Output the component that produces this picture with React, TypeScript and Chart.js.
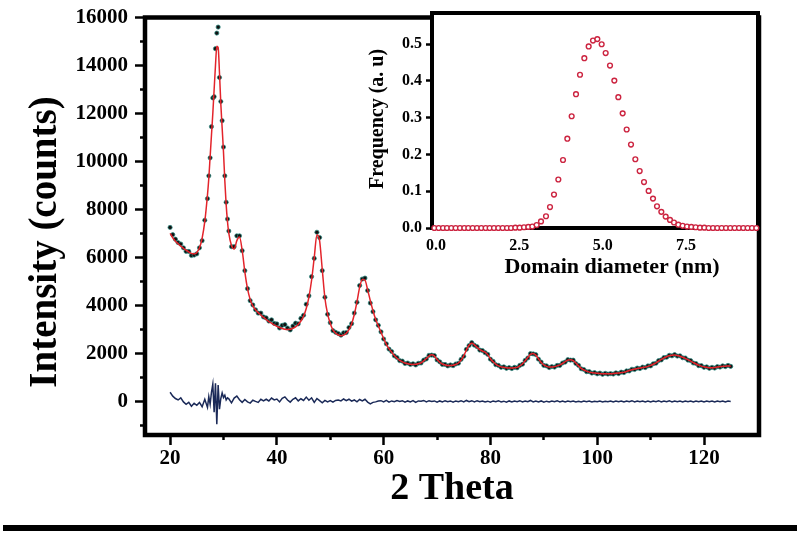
import React, { useEffect, useRef } from 'react';
import { Chart, registerables } from 'chart.js';

Chart.register(...registerables);

// ---------- main XRD pattern ----------
const THETA = [
  20, 20.5, 21, 21.5, 22, 22.5, 23, 23.5, 24, 24.5,
  25, 25.5, 26, 26.5, 27, 27.25, 27.5, 27.75, 28, 28.25,
  28.5, 28.75, 29, 29.25, 29.5, 29.75, 30, 30.25, 30.5, 30.75,
  31, 31.5, 32, 32.5, 33, 33.5, 34, 34.5, 35, 35.5,
  36, 36.5, 37, 37.5, 38, 38.5, 39, 39.5, 40, 40.5,
  41, 41.5, 42, 42.5, 43, 43.5, 44, 44.5, 45, 45.5,
  46, 46.5, 47, 47.5, 48, 48.5, 49, 49.5, 50, 50.5,
  51, 51.5, 52, 52.5, 53, 53.5, 54, 54.5, 55, 55.5,
  56, 56.5, 57, 57.5, 58, 58.5, 59, 59.5, 60, 60.5,
  61, 61.5, 62, 62.5, 63, 63.5, 64, 64.5, 65, 65.5,
  66, 66.5, 67, 67.5, 68, 68.5, 69, 69.5, 70, 70.5,
  71, 71.5, 72, 72.5, 73, 73.5, 74, 74.5, 75, 75.5,
  76, 76.5, 77, 77.5, 78, 78.5, 79, 79.5, 80, 80.5,
  81, 81.5, 82, 82.5, 83, 83.5, 84, 84.5, 85, 85.5,
  86, 86.5, 87, 87.5, 88, 88.5, 89, 89.5, 90, 90.5,
  91, 91.5, 92, 92.5, 93, 93.5, 94, 94.5, 95, 95.5,
  96, 96.5, 97, 97.5, 98, 98.5, 99, 99.5, 100, 100.5,
  101, 101.5, 102, 102.5, 103, 103.5, 104, 104.5, 105, 105.5,
  106, 106.5, 107, 107.5, 108, 108.5, 109, 109.5, 110, 110.5,
  111, 111.5, 112, 112.5, 113, 113.5, 114, 114.5, 115, 115.5,
  116, 116.5, 117, 117.5, 118, 118.5, 119, 119.5, 120, 120.5,
  121, 121.5, 122, 122.5, 123, 123.5, 124, 124.5, 125,
];

const OBSERVED = [
  7250, 6950, 6760, 6620, 6560, 6400, 6250, 6250, 6080, 6100,
  6150, 6400, 6700, 7550, 8450, 9400, 10150, 11450, 12650, 12700,
  14700, 15350, 15600, 13500, 12500, 11700, 10600, 9400, 8300, 7600,
  7100, 6450, 6450, 6900, 6900, 6280, 5450, 4700, 4200, 4020,
  3820, 3680, 3680, 3520, 3480, 3350, 3400, 3250, 3230, 3060,
  3170, 3200, 3060, 2980, 3140, 3260, 3230, 3460, 3590, 4050,
  4400, 5200, 5960, 7050, 6830, 5450, 4340, 3630, 3280, 2950,
  2880, 2830, 2760, 2860, 2870, 3080, 3240, 3680, 4130, 4830,
  5100, 5140, 4620, 4100, 3740, 3400, 3170, 2900, 2600, 2400,
  2180, 2080, 1900, 1830, 1700, 1680, 1580, 1600, 1540, 1570,
  1520, 1590, 1600, 1720, 1770, 1920, 1930, 1910, 1730, 1650,
  1540, 1540, 1480, 1520, 1490, 1560, 1590, 1750, 1880, 2170,
  2330, 2450, 2340, 2280, 2140, 2120, 2030, 1960, 1760, 1670,
  1530, 1500, 1420, 1440, 1380, 1410, 1370, 1420, 1400, 1500,
  1550, 1710, 1810, 1990, 1980, 1950, 1760, 1640, 1500, 1480,
  1410, 1450, 1430, 1500, 1500, 1600, 1640, 1740, 1720, 1720,
  1580, 1500, 1360, 1330, 1240, 1240, 1180, 1200, 1150, 1180,
  1130, 1170, 1140, 1160, 1140, 1190, 1160, 1220, 1200, 1270,
  1270, 1340, 1330, 1390, 1370, 1430, 1410, 1480, 1480, 1570,
  1590, 1700, 1730, 1830, 1840, 1920, 1900, 1950, 1890, 1900,
  1820, 1810, 1720, 1700, 1600, 1580, 1490, 1490, 1420, 1440,
  1380, 1420, 1390, 1450, 1430, 1480, 1450, 1500, 1460,
];

const CALCULATED = [
  7000, 6820, 6680, 6570, 6470, 6380, 6300, 6230, 6170, 6150,
  6210, 6400, 6800, 7500, 8600, 9300, 10200, 11100, 12000, 13000,
  14000, 14800, 14750, 13700, 12400, 11400, 10400, 9200, 8200, 7500,
  7000, 6500, 6350, 6700, 6850, 6300, 5400, 4700, 4250, 3980,
  3820, 3700, 3600, 3500, 3410, 3330, 3260, 3190, 3130, 3080,
  3040, 3010, 3000, 3010, 3050, 3110, 3210, 3350, 3550, 3870,
  4350, 5050, 6000, 6950, 6700, 5500, 4300, 3650, 3250, 2980,
  2840, 2770, 2740, 2760, 2840, 2990, 3230, 3620, 4150, 4750,
  5080, 5050, 4650, 4200, 3780, 3420, 3150, 2880, 2620, 2380,
  2200, 2050, 1910, 1800, 1710, 1650, 1600, 1570, 1550, 1540,
  1545, 1570, 1610, 1690, 1790, 1890, 1940, 1890, 1750, 1630,
  1560, 1520, 1500, 1500, 1510, 1540, 1600, 1720, 1900, 2140,
  2340, 2420, 2360, 2250, 2160, 2100, 2050, 1940, 1780, 1650,
  1550, 1480, 1440, 1420, 1400, 1390, 1390, 1400, 1420, 1480,
  1570, 1690, 1830, 1960, 2000, 1930, 1780, 1620, 1520, 1460,
  1430, 1430, 1450, 1480, 1520, 1580, 1660, 1720, 1740, 1700,
  1600, 1480, 1380, 1310, 1260, 1220, 1200, 1180, 1170, 1160,
  1150, 1150, 1150, 1150, 1160, 1170, 1180, 1200, 1220, 1250,
  1290, 1320, 1350, 1370, 1390, 1410, 1430, 1460, 1500, 1550,
  1610, 1680, 1750, 1810, 1860, 1900, 1920, 1930, 1910, 1880,
  1840, 1790, 1740, 1680, 1620, 1560, 1510, 1470, 1440, 1420,
  1400, 1400, 1410, 1430, 1450, 1460, 1470, 1480, 1470,
];

const DIFFERENCE = [
  380, 220, 120, 60, 150, -20, -120, -40, -200, -80,
  -160, -40, -220, 90, -250, 200, -120, 380, 720, -450,
  760, -950, 680, -320, 120, 350, 160, 260, 60, 150,
  110, -60, 140, 220, 70, -40, 80, -20, -70, 50,
  0, -40, 90, 20, 90, 20, 140, 60, 100, -20,
  130, 190, 60, -30, 90, 150, 20, 110, 40, 180,
  50, 150, -40, 120, 30, -60, 40, -20, 30, -30,
  40, 60, 20, 100, 30, 90, 10, 60, -20, 80,
  20, 90, -30, -100, -40, -20, 20, 30, -20, 40,
  -30, 20, -10, 40, 0, 30, -30, 20, -20, 30,
  -40, 20, 10, 40, -20, 30, 0, 20, -30, 20,
  -20, 30, -10, 20, -30, 20, -10, 30, -20, 40,
  -10, 30, -20, 30, -10, 20, -20, 10, -30, 20,
  -10, 30, -20, 10, -30, 20, -20, 20, -10, 30,
  -20, 20, -10, 40, -20, 20, -20, 20, -30, 10,
  -20, 20, -10, 30, -20, 20, -20, 20, -10, 20,
  -20, 10, -20, 20, -10, 20, -20, 10, -10, 20,
  -20, 10, -10, 20, -20, 20, -10, 20, -20, 20,
  -10, 30, -20, 20, -10, 20, -20, 20, -20, 20,
  -10, 30, -20, 20, -10, 30, -20, 20, -10, 20,
  -20, 20, -10, 20, -20, 20, -10, 20, -20, 20,
  -10, 20, -20, 20, -10, 20, -20, 20, 0,
];

const Y_TICKS = [-1000, 0, 1000, 2000, 3000, 4000, 5000, 6000, 7000, 8000, 9000,
  10000, 11000, 12000, 13000, 14000, 15000, 16000];
const Y_LABELS = [0, 2000, 4000, 6000, 8000, 10000, 12000, 14000, 16000];
const X_TICKS = [20, 30, 40, 50, 60, 70, 80, 90, 100, 110, 120];
const X_LABELS = [20, 40, 60, 80, 100, 120];

// ---------- inset: domain size distribution ----------
const DIAMETER = [
  -0.05, 0.08, 0.21, 0.33, 0.46, 0.59, 0.72, 0.85, 0.97, 1.10,
  1.23, 1.36, 1.49, 1.61, 1.74, 1.87, 2.00, 2.13, 2.25, 2.38,
  2.51, 2.64, 2.77, 2.89, 3.02, 3.15, 3.30, 3.42, 3.54, 3.67,
  3.81, 3.94, 4.07, 4.20, 4.32, 4.45, 4.58, 4.71, 4.84, 4.97,
  5.09, 5.22, 5.35, 5.47, 5.60, 5.72, 5.85, 5.98, 6.11, 6.24,
  6.38, 6.51, 6.63, 6.76, 6.89, 7.02, 7.14, 7.27, 7.40, 7.53,
  7.66, 7.79, 7.92, 8.05, 8.18, 8.31, 8.44, 8.57, 8.70, 8.83,
  8.96, 9.09, 9.22, 9.35, 9.48, 9.61,
];
const FREQUENCY = [
  0, 0, 0, 0, 0, 0, 0, 0, 0, 0,
  0, 0, 0, 0, 0, 0, 0, 0, 0, 0.001,
  0.001, 0.002, 0.003, 0.004, 0.008, 0.018, 0.032, 0.057, 0.091, 0.132,
  0.185, 0.243, 0.304, 0.364, 0.417, 0.462, 0.494, 0.510, 0.514, 0.500,
  0.476, 0.442, 0.401, 0.356, 0.312, 0.268, 0.227, 0.187, 0.155, 0.125,
  0.101, 0.080, 0.059, 0.044, 0.031, 0.022, 0.015, 0.009, 0.006, 0.004,
  0.003, 0.002, 0.001, 0.001, 0, 0, 0, 0, 0, 0,
  0, 0, 0, 0, 0, 0,
];
const INSET_Y_TICKS = [0, 0.1, 0.2, 0.3, 0.4, 0.5];
const INSET_X_TICKS = [0, 2.5, 5, 7.5];

const SERIF = '"Liberation Serif", "Times New Roman", serif';

const textPlugin = {
  id: 'freeText',
  afterDraw(chart: any, _a: any, opts: any) {
    const ctx = chart.ctx;
    (opts.items || []).forEach((it: any) => {
      ctx.save();
      ctx.font = it.font;
      ctx.fillStyle = '#000';
      ctx.textAlign = 'center';
      ctx.textBaseline = 'middle';
      ctx.translate(it.x, it.y);
      if (it.rotate) ctx.rotate(it.rotate);
      ctx.fillText(it.text, 0, 0);
      ctx.restore();
    });
  },
};

const framePlugin = {
  id: 'frame',
  beforeDraw(chart: any, _a: any, opts: any) {
    if (!opts.fill) return;
    const { ctx, chartArea: c } = chart;
    ctx.save();
    ctx.fillStyle = opts.fill;
    ctx.fillRect(c.left, c.top, c.right - c.left, c.bottom - c.top);
    ctx.restore();
  },
  beforeDatasetsDraw(chart: any, _a: any, opts: any) {
    const { ctx, chartArea: c } = chart;
    ctx.save();
    ctx.strokeStyle = '#000';
    ctx.lineWidth = opts.width || 4;
    ctx.lineJoin = 'miter';
    ctx.strokeRect(c.left, c.top, c.right - c.left, c.bottom - c.top);
    if (opts.rule) {
      ctx.fillStyle = '#000';
      ctx.fillRect(opts.rule.x1, opts.rule.y, opts.rule.x2 - opts.rule.x1, opts.rule.h);
    }
    ctx.restore();
  },
};

export default function App() {
  const mainRef = useRef<HTMLCanvasElement>(null);
  const insetRef = useRef<HTMLCanvasElement>(null);

  useEffect(() => {
    const obs = THETA.map((x, i) => ({ x, y: OBSERVED[i] }));
    const calc = THETA.map((x, i) => ({ x, y: CALCULATED[i] }));
    const diff = THETA.map((x, i) => ({ x, y: DIFFERENCE[i] }));

    const tickFont = { family: SERIF, size: 21, weight: 'bold' as const, lineHeight: 1 };

    const main = new Chart(mainRef.current!, {
      type: 'scatter',
      data: {
        datasets: [
          {
            label: 'Calculated',
            data: calc,
            showLine: true,
            borderColor: '#e3242b',
            borderWidth: 1.5,
            pointRadius: 0,
            cubicInterpolationMode: 'monotone',
            order: 1,
          } as any,
          {
            label: 'Observed',
            data: obs,
            showLine: false,
            pointRadius: 2.1,
            pointBackgroundColor: '#111',
            pointBorderColor: 'rgba(40,140,130,0.8)',
            pointBorderWidth: 0.9,
            order: 2,
          },
          {
            label: 'Difference',
            data: diff,
            showLine: true,
            borderColor: '#1b2a58',
            borderWidth: 1.5,
            pointRadius: 0,
            order: 3,
          },
        ],
      },
      options: {
        animation: false,
        responsive: false,
        layout: { padding: { top: 12, right: 41, left: 0, bottom: 0 } },
        plugins: {
          legend: { display: false },
          tooltip: { enabled: false },
          frame: { width: 4.5, rule: { x1: 3, x2: 797, y: 525, h: 6 } },
          freeText: {
            items: [
              { text: 'Intensity (counts)', x: 46, y: 242, rotate: -Math.PI / 2, font: `bold 39px ${SERIF}` },
              { text: '2 Theta', x: 452, y: 489, font: `bold 38px ${SERIF}` },
            ],
          },
        } as any,
        scales: {
          x: {
            type: 'linear',
            min: 15.3,
            max: 130.3,
            afterBuildTicks: (s: any) => { s.ticks = X_TICKS.map((v) => ({ value: v })); },
            afterFit: (s: any) => { s.height = 99; },
            border: { display: false },
            grid: {
              drawOnChartArea: false,
              drawTicks: true,
              tickLength: 10,
              tickColor: '#000',
              tickWidth: 2.5,
              tickBorderDash: (c: any) => (c.tick && X_LABELS.includes(c.tick.value) ? [] : [5, 100]),
            } as any,
            ticks: {
              color: '#000',
              padding: 3.5,
              maxRotation: 0,
              autoSkip: false,
              font: tickFont,
              callback: (v: any) => (X_LABELS.includes(Number(v)) ? String(v) : ''),
            },
          },
          y: {
            type: 'linear',
            min: -1400,
            max: 16000,
            afterBuildTicks: (s: any) => { s.ticks = Y_TICKS.map((v) => ({ value: v })); },
            afterFit: (s: any) => { s.width = 145; },
            border: { display: false },
            grid: {
              drawOnChartArea: false,
              drawTicks: true,
              tickLength: 10,
              tickColor: '#000',
              tickWidth: 2.5,
              tickBorderDash: (c: any) => (c.tick && Y_LABELS.includes(c.tick.value) ? [] : [0, 5, 5, 100]),
            } as any,
            ticks: {
              color: '#000',
              padding: 7,
              autoSkip: false,
              font: tickFont,
              callback: (v: any) => (Y_LABELS.includes(Number(v)) ? String(v) : ''),
            },
          },
        },
      },
      plugins: [framePlugin, textPlugin],
    });

    const sizeDist = DIAMETER.map((x, i) => ({ x, y: FREQUENCY[i] }));
    const insetFont = { family: SERIF, size: 16, weight: 'bold' as const, lineHeight: 1 };

    const inset = new Chart(insetRef.current!, {
      type: 'scatter',
      data: {
        datasets: [
          {
            label: 'Size distribution',
            data: sizeDist,
            pointRadius: 2.4,
            pointStyle: 'circle',
            pointBackgroundColor: '#ffffff',
            pointBorderColor: '#cc2440',
            pointBorderWidth: 1.4,
            clip: false as any,
          },
        ],
      },
      options: {
        animation: false,
        responsive: false,
        layout: { padding: { top: 13, right: 42, left: 0, bottom: 0 } },
        plugins: {
          legend: { display: false },
          tooltip: { enabled: false },
          frame: { width: 4, fill: '#ffffff' },
          freeText: {
            items: [
              { text: 'Frequency (a. u)', x: 38, y: 119, rotate: -Math.PI / 2, font: `bold 20px ${SERIF}` },
              { text: 'Domain diameter (nm)', x: 272, y: 267, font: `bold 22px ${SERIF}` },
            ],
          },
        } as any,
        scales: {
          x: {
            type: 'linear',
            min: -0.12,
            max: 9.66,
            afterBuildTicks: (s: any) => { s.ticks = INSET_X_TICKS.map((v) => ({ value: v })); },
            afterFit: (s: any) => { s.height = 72; },
            border: { display: false },
            grid: { display: false },
            ticks: {
              color: '#000',
              padding: 2,
              maxRotation: 0,
              autoSkip: false,
              font: insetFont,
              callback: (v: any) => Number(v).toFixed(1),
            },
          },
          y: {
            type: 'linear',
            min: 0,
            max: 0.585,
            afterBuildTicks: (s: any) => { s.ticks = INSET_Y_TICKS.map((v) => ({ value: v })); },
            afterFit: (s: any) => { s.width = 92; },
            border: { display: false },
            grid: {
              drawOnChartArea: false,
              drawTicks: true,
              tickLength: 6,
              tickColor: '#000',
              tickWidth: 2.5,
            },
            ticks: {
              color: '#000',
              padding: 4,
              autoSkip: false,
              font: insetFont,
              callback: (v: any) => Number(v).toFixed(1),
            },
          },
        },
      },
      plugins: [framePlugin, textPlugin],
    });

    return () => {
      main.destroy();
      inset.destroy();
    };
  }, []);

  return (
    <div style={{ position: 'fixed', left: 0, top: 0, width: 800, height: 534, background: '#ffffff' }}>
      <canvas ref={mainRef} width={800} height={534} style={{ position: 'absolute', left: 0, top: 0 }} />
      <canvas ref={insetRef} width={460} height={300} style={{ position: 'absolute', left: 340, top: 0 }} />
    </div>
  );
}
